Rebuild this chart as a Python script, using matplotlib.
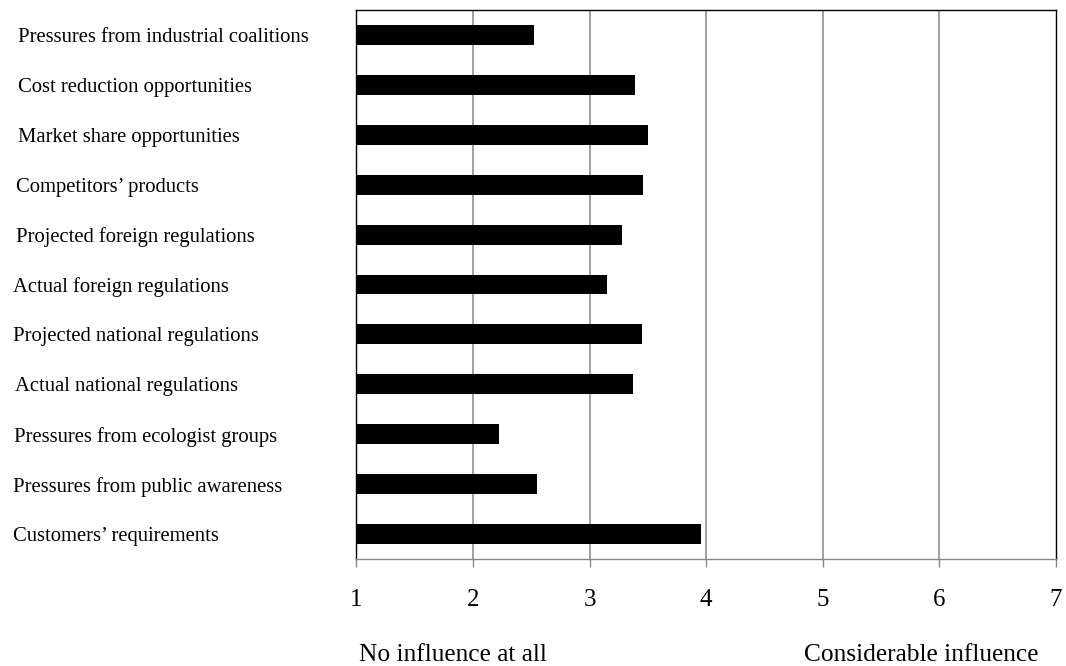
import matplotlib
matplotlib.use("Agg")
import matplotlib.pyplot as plt
import matplotlib.transforms as mtransforms

# drivers, top to bottom as in the chart
factors = [
    "Pressures from industrial coalitions",
    "Cost reduction opportunities",
    "Market share opportunities",
    "Competitors\u2019 products",
    "Projected foreign regulations",
    "Actual foreign regulations",
    "Projected national regulations",
    "Actual national regulations",
    "Pressures from ecologist groups",
    "Pressures from public awareness",
    "Customers\u2019 requirements",
]
mean_scores = [2.52, 3.39, 3.50, 3.46, 3.28, 3.15, 3.45, 3.37, 2.22, 2.55, 3.96]
scale_ticks = [1, 2, 3, 4, 5, 6, 7]

# labels in the source are not perfectly aligned (left edge, pixels)
label_x_px = [18, 18, 18, 16, 16, 13, 13, 15, 14, 13, 13]

W, H, DPI = 1066, 666, 100
plt.rcParams["font.family"] = ["Liberation Serif", "DejaVu Serif"]

fig = plt.figure(figsize=(W / DPI, H / DPI), dpi=DPI)
ax = fig.add_axes([356.3 / W, 1 - 559 / H, (1056 - 356.3) / W, (559 - 10) / H])

pos = list(range(len(factors)))
ax.barh(pos, [v - 1 for v in mean_scores], left=1, height=0.4,
        color="black", zorder=3)

ax.set_xlim(1, 7)
ax.set_ylim(len(factors) - 0.5, -0.5)
ax.set_xticks(scale_ticks)
ax.set_xticklabels([str(t) for t in scale_ticks], fontsize=18)
ax.set_yticks([])
ax.tick_params(axis="x", direction="out", length=5.8, width=1.0,
               color="#888888", pad=15.5)

for x in scale_ticks[1:-1]:
    ax.axvline(x, color="#888888", lw=1.1, zorder=1)

for side in ("top", "left", "right"):
    ax.spines[side].set_color("black")
    ax.spines[side].set_linewidth(1.0)
ax.spines["bottom"].set_color("#888888")
ax.spines["bottom"].set_linewidth(1.0)

# category labels sit a touch below the bar centres in the source
shift = mtransforms.ScaledTranslation(0, -2.5 / DPI, fig.dpi_scale_trans)
trans = mtransforms.blended_transform_factory(fig.transFigure, ax.transData) + shift
for i, name in enumerate(factors):
    ax.text(label_x_px[i] / W, i, name, transform=trans, ha="left",
            va="center", fontsize=14.9, clip_on=False)

fig.text(359 / W, 1 - 655 / H, "No influence at all", ha="left",
         va="center", fontsize=18.3)
fig.text(1039 / W, 1 - 655 / H, "Considerable influence", ha="right",
         va="center", fontsize=18.3)

fig.savefig("out.png", dpi=DPI)
